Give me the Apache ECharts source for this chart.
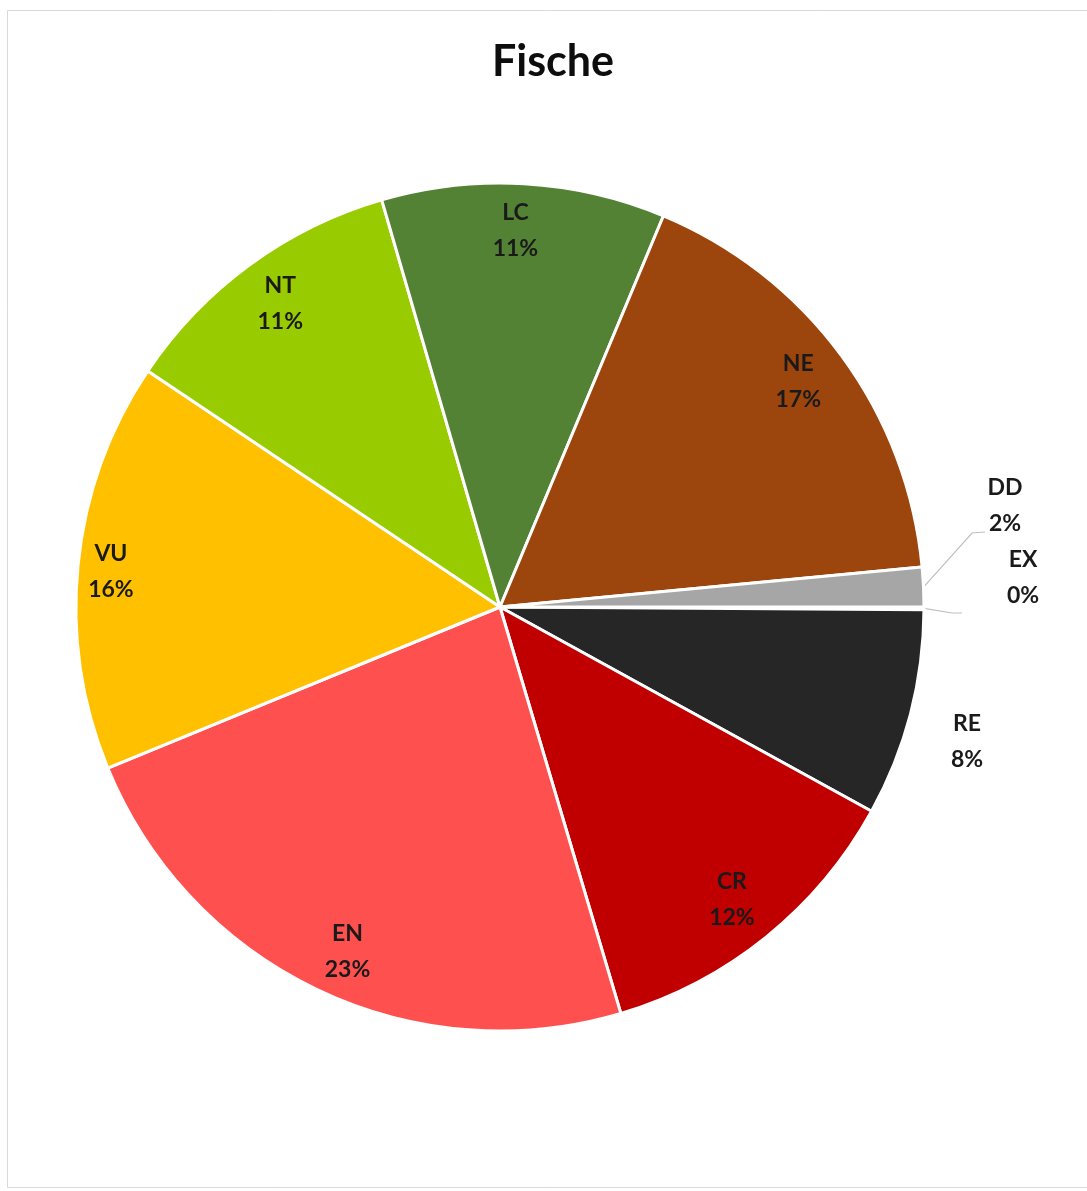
<!DOCTYPE html>
<html>
<head>
<meta charset="utf-8">
<script src="https://cdn.jsdelivr.net/npm/echarts@6/dist/echarts.min.js"></script>
<style>
html,body{margin:0;padding:0;background:#fff;}
#chart{width:1087px;height:1191px;}
</style>
</head>
<body>
<div id="chart"></div>
<script>
// Data (percent shares), clockwise from 3 o'clock
const categories = ['EX', 'RE', 'CR', 'EN', 'VU', 'NT', 'LC', 'NE', 'DD'];
const values = [0.1, 7.9, 12.4, 23.4, 15.6, 11.1, 10.8, 17.2, 1.5];
const colors = ['#7F7F7F', '#262626', '#C00000', '#FF5050', '#FFC000', '#99CC00', '#548235', '#9C450C', '#A6A6A6'];
const outsideLabels = ['EX', 'RE', 'DD'];
const titleText = 'Fische';

const CX = 500, CY = 607, R = 424;
const FONT = 'Lato, "Open Sans", sans-serif';

const chart = echarts.init(document.getElementById('chart'));
const fmt = p => p.name + '\n' + Math.round(p.percent) + '%';

// mid angle (screen degrees, clockwise from 3 o'clock) of each slice, from the data
const total = values.reduce((a, b) => a + b, 0);
const midAngles = [];
(function () {
  let acc = 0;
  values.forEach(v => { midAngles.push((acc + v / 2) / total * 360); acc += v; });
})();

// label anchor (text centre) offsets relative to pie centre, and leader-line elbow/end offsets relative to anchor
const outsideOffsets = { DD: [505, -101], EX: [523, -29], RE: [467, 135] };
const leaderOffsets = { DD: [[-33, 27], [-20, 26]], EX: [[-71, 35], [-61, 35]] };
// small nudges of inside labels (best-fit placement of the original)
const insideNudges = { VU: [-12, 3], EN: [11, 3], NE: [-7, -1], LC: [-6, 2], CR: [-6, -2], NT: [4, 2] };

const mainData = categories.map((c, i) => ({
  name: c,
  value: values[i],
  itemStyle: { color: colors[i] },
  label: { show: outsideLabels.includes(c) },
  labelLine: { show: c !== 'RE' }
}));
const overlayData = categories.map((c, i) => ({
  name: c,
  value: values[i],
  label: { show: !outsideLabels.includes(c) }
}));

chart.setOption({
  animation: false,
  backgroundColor: '#ffffff',
  graphic: [{
    type: 'rect',
    shape: { x: 7.5, y: 10.5, width: 1100, height: 1177 },
    style: { fill: 'none', stroke: '#d9d9d9', lineWidth: 1 },
    silent: true, z: -10
  }],
  title: {
    text: titleText,
    left: 548, top: 36, textAlign: 'center',
    textStyle: { fontFamily: FONT, fontWeight: 'bold', fontSize: 43, color: '#0d0d0d' }
  },
  series: [
    {
      type: 'pie',
      center: [CX, CY],
      radius: [0, R],
      startAngle: 0,
      clockwise: true,
      avoidLabelOverlap: false,
      itemStyle: { borderColor: '#ffffff', borderWidth: 3 },
      label: {
        position: 'outside',
        formatter: fmt,
        fontFamily: FONT, fontWeight: 'bold', fontSize: 23, lineHeight: 36,
        color: '#1a1a1a', align: 'center'
      },
      labelLine: { length: 15, length2: 10, lineStyle: { color: '#bfbfbf', width: 1.2 } },
      labelLayout: function (params) {
        const name = categories[params.dataIndex];
        const off = outsideOffsets[name];
        if (!off) return {};
        const ax = CX + off[0], ay = CY + off[1];
        const res = { x: ax, y: ay, align: 'center', verticalAlign: 'middle' };
        const lo = leaderOffsets[name];
        if (lo) {
          const t = midAngles[params.dataIndex] * Math.PI / 180;
          res.labelLinePoints = [
            [CX + R * Math.cos(t), CY + R * Math.sin(t)],
            [ax + lo[0][0], ay + lo[0][1]],
            [ax + lo[1][0], ay + lo[1][1]]
          ];
        }
        return res;
      },
      emphasis: { disabled: true },
      data: mainData
    },
    {
      type: 'pie',
      center: [CX, CY],
      radius: [328, R],
      startAngle: 0,
      clockwise: true,
      silent: true,
      avoidLabelOverlap: false,
      itemStyle: { color: 'rgba(0,0,0,0)', borderWidth: 0 },
      label: {
        position: 'inside',
        formatter: fmt,
        fontFamily: FONT, fontWeight: 'bold', fontSize: 23, lineHeight: 36,
        color: '#1a1a1a'
      },
      labelLayout: function (params) {
        const n = insideNudges[categories[params.dataIndex]];
        return n ? { dx: n[0], dy: n[1] } : {};
      },
      labelLine: { show: false },
      emphasis: { disabled: true },
      data: overlayData
    }
  ]
});
</script>
</body>
</html>
